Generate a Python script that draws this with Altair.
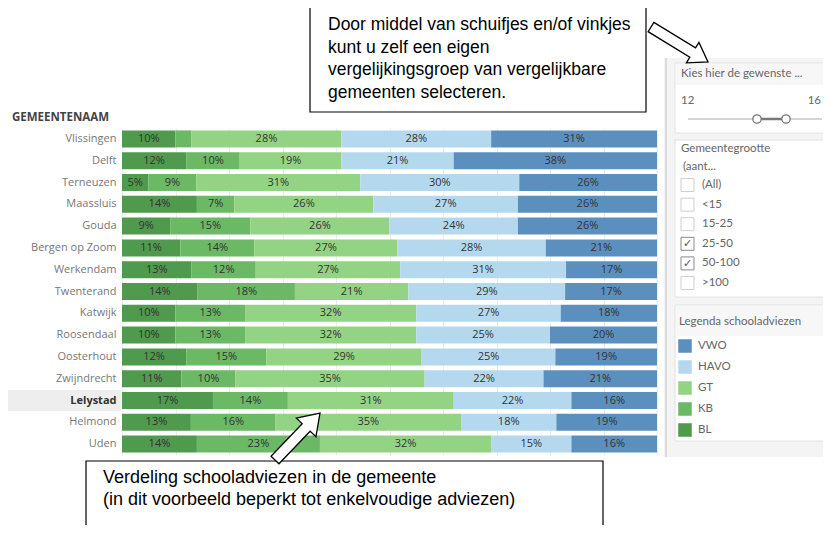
import altair as alt
import pandas as pd
import math

# ---------------- data ----------------
gemeenten = ["Vlissingen", "Delft", "Terneuzen", "Maassluis", "Gouda", "Bergen op Zoom",
             "Werkendam", "Twenterand", "Katwijk", "Roosendaal", "Oosterhout",
             "Zwijndrecht", "Lelystad", "Helmond", "Uden"]
adviezen = ["BL", "KB", "GT", "HAVO", "VWO"]
bl = [10, 12, 5, 14, 9, 11, 13, 14, 10, 10, 12, 11, 17, 13, 14]
kb = [3, 10, 9, 7, 15, 14, 12, 18, 13, 13, 15, 10, 14, 16, 23]
gt = [28, 19, 31, 26, 26, 27, 27, 21, 32, 32, 29, 35, 31, 35, 32]
havo = [28, 21, 30, 27, 24, 28, 31, 29, 27, 25, 25, 22, 22, 18, 15]
vwo = [31, 38, 26, 26, 26, 21, 17, 17, 18, 20, 19, 21, 16, 19, 16]
kleuren = ["#4f9a4d", "#6bb865", "#93d384", "#b4d9ef", "#5b8fbe"]
highlight = "Lelystad"

legenda_volgorde = ["VWO", "HAVO", "GT", "KB", "BL"]
grootte_klassen = ["(All)", "<15", "15-25", "25-50", "50-100", ">100"]
grootte_gekozen = [False, False, False, True, True, False]
slider_min, slider_max = "12", "16"

tekst_boven = ["Door middel van schuifjes en/of vinkjes",
               "kunt u zelf een eigen",
               "vergelijkingsgroep van vergelijkbare",
               "gemeenten selecteren."]
tekst_onder = ["Verdeling schooladviezen in de gemeente",
               "(in dit voorbeeld beperkt tot enkelvoudige adviezen)"]

series = {"BL": bl, "KB": kb, "GT": gt, "HAVO": havo, "VWO": vwo}
rows = []
for a_i, a in enumerate(adviezen):
    for g, v in zip(gemeenten, series[a]):
        rows.append({"gemeente": g, "advies": a, "waarde": v, "volgorde": a_i})
df = pd.DataFrame(rows)
kleur_map = dict(zip(adviezen, kleuren))

# ---------------- layout helpers ----------------
W, H = 535, 327
OX, OY = 122, 128          # page position of plot origin
one = alt.Data(values=[{"k": 1}])


def PX(v):
    return alt.value(v - OX)


def PY(v):
    return alt.value(v - OY)


def rect(x1, y1, x2, y2, fill, stroke=None, sw=1.0):
    kw = dict(fill=fill)
    if stroke:
        kw.update(stroke=stroke, strokeWidth=sw)
    else:
        kw.update(strokeWidth=0)
    return alt.Chart(one).mark_rect(**kw).encode(x=PX(x1), x2=PX(x2), y=PY(y1), y2=PY(y2))


def hline(x1, x2, y, color, sw=1.0):
    return alt.Chart(one).mark_rule(color=color, strokeWidth=sw).encode(x=PX(x1), x2=PX(x2), y=PY(y))


def vline(x, y1, y2, color, sw=1.0):
    return alt.Chart(one).mark_rule(color=color, strokeWidth=sw).encode(x=PX(x), y=PY(y1), y2=PY(y2))


def label(txt, x, y, size=11.5, color="#666666", align="left", weight="normal", font="Lato"):
    return alt.Chart(one).mark_text(text=txt, align=align, baseline="middle", fontSize=size,
                                    color=color, fontWeight=weight, font=font).encode(x=PX(x), y=PY(y))


def arrow(tail, tip, shaft_w, head_w, head_l):
    dx, dy = tip[0] - tail[0], tip[1] - tail[1]
    L = math.hypot(dx, dy)
    ang = math.degrees(math.atan2(dy, dx)) % 360
    s = shaft_w / L
    h = head_w / L
    hx = 1 - 2 * head_l / L
    path = (f"M -1 {-s:.3f} L {hx:.3f} {-s:.3f} L {hx:.3f} {-h:.3f} L 1 0 "
            f"L {hx:.3f} {h:.3f} L {hx:.3f} {s:.3f} L -1 {s:.3f} Z")
    cx, cy = (tail[0] + tip[0]) / 2, (tail[1] + tip[1]) / 2
    return alt.Chart(one).mark_point(shape=path, filled=True, fill="white", stroke="black",
                                     strokeWidth=1.3, opacity=1, size=L * L,
                                     angle=ang).encode(x=PX(cx), y=PY(cy))


layers = []

# ---------------- side panel ----------------
layers.append(rect(664, 58, 840, 457, "#f4f4f4"))
layers.append(vline(666, 58, 457, "#dcdcdc", 2))
# section 1 : slider
layers.append(rect(675, 63, 840, 133, "white", "#e2e2e2"))
layers.append(rect(676, 64, 839, 85, "#f7f7f7"))
layers.append(label("Kies hier de gewenste ...", 681, 74))
layers.append(label(slider_min, 681, 101))
layers.append(label(slider_max, 821, 101, align="right"))
layers.append(hline(688, 822, 119, "#d4d4d4", 2))
layers.append(hline(757, 786, 119, "#777777", 2.5))
for tx in (757, 786):
    layers.append(alt.Chart(one).mark_point(shape="circle", filled=True, fill="white", stroke="#777777",
                                            strokeWidth=1.3, size=70, opacity=1).encode(x=PX(tx), y=PY(119)))
# section 2 : checkboxes
layers.append(rect(675, 140, 840, 297, "white", "#e2e2e2"))
layers.append(label("Gemeentegrootte", 681, 149))
layers.append(label("(aant...", 683, 167))
for i, (kl, aan) in enumerate(zip(grootte_klassen, grootte_gekozen)):
    cy = 185 + i * 19.6
    layers.append(rect(681, cy - 6.5, 694, cy + 6.5, "white", "#8a8a8a" if aan else "#cfcfcf", 1))
    if aan:
        layers.append(label("\u2713", 687.5, cy + 0.5, size=11, color="#555555", align="center", font="DejaVu Sans"))
    layers.append(label(kl, 702, cy))
# section 3 : legend
layers.append(rect(675, 305, 840, 441, "white", "#e2e2e2"))
layers.append(rect(676, 306, 839, 336, "#f7f7f7"))
layers.append(label("Legenda schooladviezen", 679, 322))
for i, a in enumerate(legenda_volgorde):
    cy = 346 + i * 21
    layers.append(rect(678, cy - 7, 692, cy + 7, kleur_map[a], "#ffffff", 0.5))
    layers.append(label(a, 698, cy))

# ---------------- bar chart ----------------
y_enc = alt.Y("gemeente:N", sort=gemeenten,
              scale=alt.Scale(paddingInner=0.22, paddingOuter=0.11),
              axis=alt.Axis(title=None, ticks=False, domain=False, labelPadding=6, zindex=1,
                            labelFont="Open Sans", labelFontSize=11,
                            labelColor=alt.expr(f"datum.value == '{highlight}' ? '#333333' : '#777777'"),
                            labelFontWeight=alt.expr(f"datum.value == '{highlight}' ? 'bold' : 'normal'")))

hl = alt.Chart(pd.DataFrame({"gemeente": [highlight]})).mark_rule(
    color="#eeeeee", strokeWidth=21).encode(y=alt.Y("gemeente:N", sort=gemeenten), x=PX(4), x2=PX(121))
layers.append(hl)

base = alt.Chart(df).transform_stack(
    stack="waarde", groupby=["gemeente"], sort=[alt.SortField("volgorde")],
    as_=["x0", "x1"], offset="normalize"
).transform_calculate(mid="(datum.x0 + datum.x1) / 2", lab="datum.waarde + '%'")

bars = base.mark_bar().encode(
    y=y_enc,
    x=alt.X("x0:Q", scale=alt.Scale(domain=[0, 1], nice=False),
            axis=alt.Axis(values=[i / 10 for i in range(11)], grid=True, gridColor="#ececec",
                          labels=False, ticks=False, domain=False, title=None)),
    x2="x1:Q",
    color=alt.Color("advies:N", scale=alt.Scale(domain=adviezen, range=kleuren), legend=None),
)
texts = base.transform_filter("datum.waarde >= 4").mark_text(
    fontSize=11, color="#333333", font="Open Sans").encode(
    y=alt.Y("gemeente:N", sort=gemeenten), x="mid:Q", text="lab:N")
layers += [bars, texts]
layers.append(label("GEMEENTENAAM", 12, 118, size=11.5, color="#444444", weight="bold", font="Open Sans"))

# ---------------- call-outs ----------------
layers.append(rect(310, 5, 646, 112, "white", "black", 1.2))
for i, t in enumerate(tekst_boven):
    layers.append(label(t, 328, 25 + i * 22.7, size=17.5, color="black", font="Liberation Sans"))
layers.append(rect(86, 461, 603, 560, "white", "black", 1.2))
for i, t in enumerate(tekst_onder):
    layers.append(label(t, 103, 478 + i * 22, size=18, color="black", font="Liberation Sans"))
layers.append(arrow((651, 27), (708, 62), 11, 24, 18))
layers.append(arrow((275, 460), (320, 413), 11, 27, 20))

chart = alt.layer(*layers).properties(
    width=W, height=H,
    padding={"left": 114, "top": 120, "right": 166, "bottom": 70},
    autosize=alt.AutoSizeParams(type="none"),
    background="white",
).configure_view(stroke=None)

chart.save("out.html", embed_options={"renderer": "svg", "actions": False})
